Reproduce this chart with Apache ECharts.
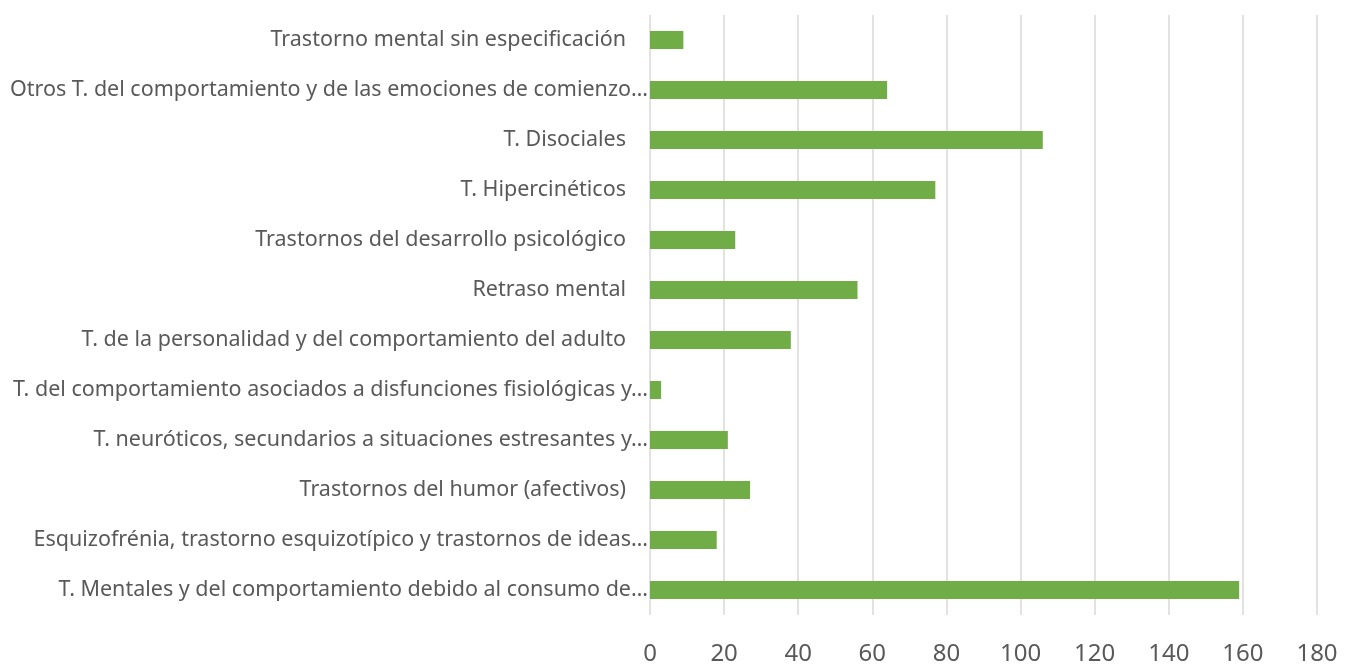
<!DOCTYPE html>
<html>
<head>
<meta charset="utf-8">
<script src="https://cdn.jsdelivr.net/npm/echarts@6/dist/echarts.min.js"></script>
<style>
  html, body { margin: 0; padding: 0; background: #fff; }
  #chart { width: 1352px; height: 666px; }
</style>
</head>
<body>
<div id="chart"></div>
<script>
// categories, top to bottom as in the picture
const categories = [
  'Trastorno mental sin especificación',
  'Otros T. del comportamiento y de las emociones de comienzo…',
  'T. Disociales',
  'T. Hipercinéticos',
  'Trastornos del desarrollo psicológico',
  'Retraso mental',
  'T. de la personalidad y del comportamiento del adulto',
  'T. del comportamiento asociados a disfunciones fisiológicas y…',
  'T. neuróticos, secundarios a situaciones estresantes y…',
  'Trastornos del humor (afectivos)',
  'Esquizofrénia, trastorno esquizotípico y trastornos de ideas…',
  'T. Mentales y del comportamiento debido al consumo de…'
];
const values = [9, 64, 106, 77, 23, 56, 38, 3, 21, 27, 18, 159];

const xMax = 180;
const xStep = 20;

const textColor = '#595959';
const fontFamily = '"Noto Sans", "Open Sans", sans-serif';

const chart = echarts.init(document.getElementById('chart'));

chart.setOption({
  animation: false,
  grid: {
    left: 650,
    right: 35,
    top: 15,
    bottom: 49,
    containLabel: false
  },
  xAxis: {
    type: 'value',
    min: 0,
    max: xMax,
    interval: xStep,
    axisLine: { show: false },
    axisTick: { show: false },
    splitLine: { show: true, lineStyle: { color: '#D9D9D9', width: 1.5 } },
    axisLabel: {
      color: textColor,
      fontFamily: fontFamily,
      fontSize: 24,
      margin: 27
    }
  },
  yAxis: {
    type: 'category',
    inverse: true,
    data: categories,
    axisLine: { show: false },
    axisTick: { show: false },
    axisLabel: {
      margin: 2,
      formatter: (v) => v.endsWith('…') ? '{t|' + v + '}' : '{n|' + v + '}',
      rich: {
        t: { color: textColor, fontFamily: fontFamily, fontSize: 21.5 },
        n: { color: textColor, fontFamily: fontFamily, fontSize: 21.5, padding: [0, 22, 0, 0] }
      }
    }
  },
  series: [
    {
      type: 'bar',
      data: values,
      barWidth: 18,
      itemStyle: { color: '#70AD47' }
    }
  ]
});
</script>
</body>
</html>
